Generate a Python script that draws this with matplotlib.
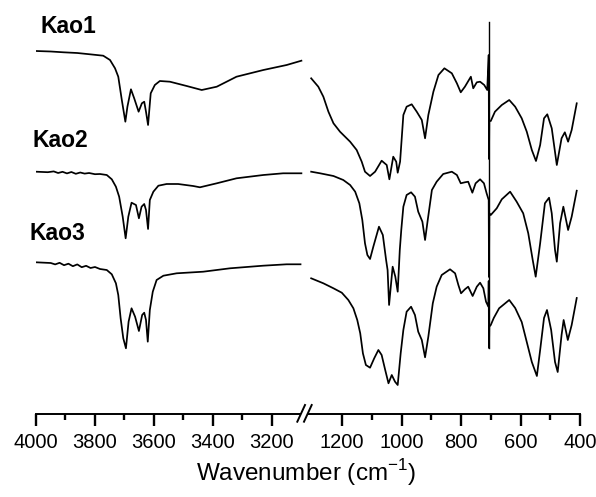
import matplotlib.pyplot as plt
from matplotlib.lines import Line2D
from matplotlib.patches import Polygon

plt.rcParams['font.family'] = ['Liberation Sans', 'DejaVu Sans']
plt.rcParams['mathtext.fontset'] = 'custom'
plt.rcParams['mathtext.rm'] = 'Liberation Sans'

# ---- data: stacked transmittance (a.u.) ----
labels = ["Kao1", "Kao2", "Kao3"]

# high-wavenumber region (4000-3100 cm-1)
kao1_hi_wn = [4000, 3950, 3907, 3860, 3817, 3772, 3749, 3732, 3721, 3709, 3697, 3690, 3678, 3667,
              3652, 3641, 3633, 3627, 3620, 3611, 3597, 3580, 3546, 3489, 3438, 3387, 3320, 3229,
              3150, 3100]
kao1_hi_t = [449, 448.5, 447.7, 447, 445.7, 444.3, 440, 431.7, 423.3, 400, 378.3, 393.3, 410.7, 401.7,
             388.3, 396.7, 398.3, 388.3, 375, 406.7, 415, 419, 418.3, 414, 410, 413.3, 423.3, 430,
             435, 439.3]

kao2_hi_wn = [4000, 3960, 3940, 3925, 3910, 3895, 3880, 3865, 3850, 3835, 3820, 3800, 3783, 3760,
              3743, 3729, 3718, 3706, 3696, 3687, 3676, 3661, 3651, 3642, 3633, 3627, 3620, 3614,
              3602, 3585, 3557, 3518, 3467, 3444, 3387, 3320, 3229, 3162, 3100]
kao2_hi_t = [328.3, 327.8, 328.6, 327, 328.2, 326.6, 328, 326.2, 327.5, 326.4, 327, 325.8, 326, 325,
             320.7, 313.3, 303.3, 283.3, 261.7, 283.3, 297.3, 295, 281.7, 293.3, 296, 290, 271, 300,
             308.3, 314.3, 316, 316, 314, 312.7, 316.7, 321.7, 325, 326.7, 326.7]

kao3_hi_wn = [4000, 3950, 3935, 3920, 3905, 3890, 3875, 3860, 3845, 3830, 3815, 3800, 3783, 3760,
              3743, 3729, 3721, 3713, 3704, 3695, 3686, 3676, 3664, 3651, 3640, 3633, 3627, 3621,
              3614, 3604, 3591, 3568, 3523, 3433, 3342, 3230, 3150, 3103]
kao3_hi_t = [237.7, 237, 235.6, 237.2, 234.8, 236.3, 233.8, 235.6, 232.8, 234.2, 232, 233, 231, 230,
             225.7, 216.7, 205, 181.7, 161.7, 151.7, 178.3, 191.7, 183.3, 169, 185, 187.3, 180, 158.3,
             190, 208.3, 220, 224.3, 226.7, 228.3, 231.7, 234.3, 235.7, 235.7]

# fingerprint region (1300-400 cm-1)
kao1_lo_wn = [1304, 1280, 1263, 1246, 1229, 1207, 1173, 1151, 1134, 1123, 1106, 1089, 1067, 1050,
              1041, 1028, 1018, 1013, 1005, 994, 983, 966, 949, 932, 921, 910, 893, 876, 856, 831,
              814, 801, 787, 767, 759, 747, 736, 722, 712, 707, 706, 705, 700, 686, 663, 638, 618,
              596, 579, 562, 548, 534, 521, 510, 495, 478, 462, 451, 440, 428, 411]
kao1_lo_t = [421.7, 413.3, 403.3, 388.3, 376.7, 368.3, 358.3, 350, 338.3, 328.3, 324, 328.3, 339.3, 335,
             320.7, 343.3, 338.3, 327.3, 338.3, 385, 393.3, 395.7, 388.3, 380, 361.7, 385, 408.3, 425,
             431.7, 426.7, 416.7, 407.7, 413.3, 423.3, 411.7, 417.7, 418.3, 415, 410, 445, 341, 379,
             379, 388.3, 395, 400, 393.3, 381.7, 368.3, 350, 339, 355, 381.7, 385.7, 371.7, 335,
             361.7, 367.7, 358.3, 370, 396.7]

kao2_lo_wn = [1304, 1274, 1229, 1196, 1173, 1156, 1142, 1132, 1123, 1115, 1106, 1095, 1076, 1063,
              1052, 1047, 1042, 1030, 1021, 1013, 1006, 1001, 994, 983, 968, 955, 944, 930, 921, 912,
              898, 882, 860, 831, 814, 801, 787, 776, 762, 751, 736, 723, 714, 707, 706, 705, 700,
              680, 663, 635, 613, 591, 574, 559, 549, 534, 518, 504, 495, 484, 478, 467, 456, 440,
              428, 411]
kao2_lo_t = [328.3, 326.7, 324, 320, 315, 308.3, 296.7, 280, 256.7, 245, 241, 253.3, 273.3, 265,
             240, 230, 195, 233.3, 223.3, 208.3, 250, 270, 293.3, 305, 307.7, 303.3, 288.3, 278.3,
             260, 280, 310, 318.3, 326, 328.3, 325, 316.7, 317.7, 318.3, 307.3, 316.7, 320.7, 316.7,
             306.7, 300, 223, 286.7, 285, 291.7, 300.7, 308.3, 298.3, 286.7, 266.7, 240, 223.3,
             256.7, 296.7, 302.3, 286.7, 250, 238.3, 276.7, 293.3, 270, 283.3, 309.3]

kao3_lo_wn = [1304, 1263, 1229, 1201, 1179, 1162, 1149, 1139, 1130, 1120, 1106, 1092, 1078, 1067,
              1055, 1044, 1033, 1022, 1013, 1003, 994, 983, 968, 955, 944, 932, 921, 910, 895, 882,
              865, 837, 820, 809, 800, 787, 776, 761, 747, 736, 725, 716, 708, 707, 706, 705, 700,
              690, 672, 638, 618, 596, 579, 562, 545, 534, 521, 511, 497, 484, 475, 462, 455, 441,
              428, 411]
kao3_lo_t = [221.7, 216.7, 211.7, 207.3, 200, 191.7, 180, 166.7, 146.7, 135, 132.3, 141.7, 150, 145,
             130, 116.7, 125, 118.3, 115, 146.7, 170, 188.3, 193.3, 185, 168.3, 160, 142.7, 163.3,
             196.7, 213.3, 225, 230.7, 226.7, 215, 206.7, 210.7, 213.3, 204, 213.3, 217.3, 211.7,
             198.3, 193.3, 219, 152, 173.3, 175, 182, 191.7, 200, 192, 178, 158, 138, 124, 150, 182,
             190, 170, 138, 128, 165, 180, 160, 175, 202]

marker_wn = 706
marker_span = [152, 478]

label_wn = [3984, 4012, 4023]
label_t = [466.7, 353.3, 260]

hi_ticks = [4000, 3800, 3600, 3400, 3200]
hi_minor = [3900, 3700, 3500, 3300]
lo_ticks = [1200, 1000, 800, 600, 400]
lo_minor = [1100, 900, 700, 500]

W, H = 596, 497
fig = plt.figure(figsize=(W / 100, H / 100), dpi=100)

ax_bottom, ax_top = 414, 10
ax1 = fig.add_axes([36 / W, (H - ax_bottom) / H, 271 / W, (ax_bottom - ax_top) / H])
ax2 = fig.add_axes([307 / W, (H - ax_bottom) / H, 273 / W, (ax_bottom - ax_top) / H])

hi = [(kao1_hi_wn, kao1_hi_t), (kao2_hi_wn, kao2_hi_t), (kao3_hi_wn, kao3_hi_t)]
lo = [(kao1_lo_wn, kao1_lo_t), (kao2_lo_wn, kao2_lo_t), (kao3_lo_wn, kao3_lo_t)]

for wn, t in hi:
    ax1.plot(wn, t, color="black", lw=1.25)
for wn, t in lo:
    ax2.plot(wn, t, color="black", lw=1.25)
ax2.plot([marker_wn, marker_wn], marker_span, color="black", lw=1.0)

for name, x, y in zip(labels, label_wn, label_t):
    ax1.text(x, y, name, fontsize=16.5, fontweight="bold", ha="left", va="baseline",
             clip_on=False)

ax1.set_xlim(4000, 3081)
ax2.set_xlim(1318, 400)
for ax in (ax1, ax2):
    ax.set_ylim(86, 490)
    for s in ("left", "right", "top"):
        ax.spines[s].set_visible(False)
    ax.spines["bottom"].set_linewidth(1.4)
    ax.set_yticks([])
    ax.tick_params(axis="x", which="major", direction="out", length=8.5, width=1.7,
                   labelsize=14.5, pad=5)
    ax.tick_params(axis="x", which="minor", direction="out", length=4.5, width=1.7)
    ax.patch.set_alpha(0)

ax1.set_xticks(hi_ticks)
ax1.set_xticks(hi_minor, minor=True)
ax2.set_xticks(lo_ticks)
ax2.set_xticks(lo_minor, minor=True)

# axis break marks
def px(x, y):
    return x / W, 1 - y / H

gap = Polygon([px(297.3, 421.7), px(305, 405), px(311.7, 405), px(304, 421.7)],
              closed=True, transform=fig.transFigure, facecolor="white", edgecolor="none",
              zorder=5)
fig.add_artist(gap)
for x0, x1 in [(297.3, 305), (304, 311.7)]:
    (a, b), (c, d) = px(x0, 421.7), px(x1, 405)
    fig.add_artist(Line2D([a, c], [b, d], transform=fig.transFigure, color="black",
                          lw=1.4, zorder=6))

fig.text(306 / W, 1 - 473 / H, "Wavenumber (cm$^{\\mathregular{-1}}$)", fontsize=17.5,
         ha="center", va="center")

fig.savefig("out.png", dpi=100)
